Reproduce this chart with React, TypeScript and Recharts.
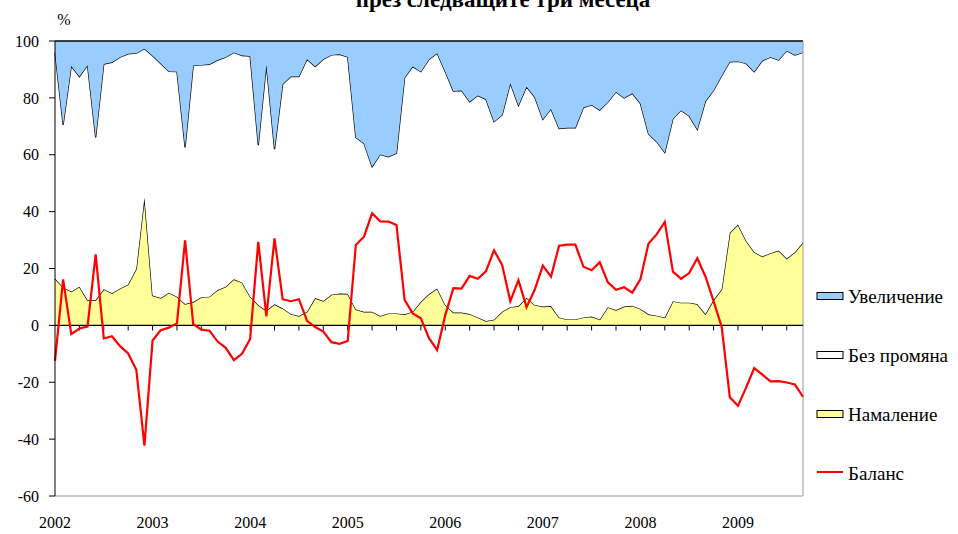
import React from "react";
import { ComposedChart, Area, Line, XAxis, YAxis, ReferenceLine } from "recharts";

// monthly survey answers, Jan 2002 - Sep 2009
const years = ["2002", "2003", "2004", "2005", "2006", "2007", "2008", "2009"];

const uvelichenie = [
  4.0, 29.5, 8.8, 12.5, 8.5, 33.9, 8.1, 7.5, 5.7, 4.5, 4.3, 2.7,
  5.2, 7.9, 10.7, 10.8, 37.4, 8.6, 8.4, 8.2, 6.7, 5.7, 4.0, 5.1,
  5.3, 36.6, 8.4, 38.0, 15.2, 12.5, 12.5, 6.4, 9.0, 6.4, 4.9, 4.7,
  5.6, 33.9, 36.0, 44.2, 39.9, 40.7, 39.5, 12.9, 9.0, 10.8, 6.5, 4.3,
  10.8, 17.6, 17.4, 21.4, 19.2, 20.5, 28.4, 26.0, 14.9, 22.7, 16.1, 19.7,
  27.6, 23.9, 30.8, 30.5, 30.5, 23.4, 22.5, 24.3, 21.5, 17.9, 20.0, 18.4,
  22.0, 32.7, 35.4, 39.2, 27.4, 24.4, 26.4, 31.1, 21.2, 17.4, 12.2, 7.3,
  7.2, 7.9, 10.8, 6.9, 5.7, 6.7, 3.4, 4.9, 4.0,
];

const bezPromyana = [
  79.5, 57.2, 79.3, 73.9, 82.6, 57.2, 79.2, 81.2, 81.3, 81.1, 75.8, 52.3,
  84.3, 82.5, 77.8, 79.1, 55.1, 83.2, 81.7, 81.7, 80.9, 80.7, 79.8, 79.8,
  84.6, 56.2, 86.4, 54.6, 78.8, 83.5, 84.2, 88.8, 81.4, 85.0, 84.3, 84.1,
  83.3, 60.5, 59.2, 51.0, 56.8, 55.1, 56.3, 83.2, 86.2, 80.9, 82.5, 82.7,
  82.0, 77.9, 78.1, 74.6, 78.0, 78.0, 69.6, 69.2, 78.7, 70.5, 74.2, 73.1,
  65.8, 69.3, 66.4, 67.4, 67.4, 73.8, 74.4, 73.6, 72.1, 76.7, 73.4, 74.7,
  72.2, 63.4, 61.2, 58.0, 64.1, 67.6, 65.6, 61.4, 74.8, 73.7, 75.1, 60.1,
  57.3, 62.3, 63.4, 68.9, 68.9, 67.0, 73.1, 69.4, 66.9,
];

const namalenie = [
  16.5, 13.3, 11.9, 13.6, 8.9, 8.9, 12.7, 11.3, 13.0, 14.4, 19.9, 45.0,
  10.5, 9.6, 11.5, 10.1, 7.5, 8.2, 9.9, 10.1, 12.4, 13.6, 16.2, 15.1,
  10.1, 7.2, 5.2, 7.4, 6.0, 4.0, 3.3, 4.8, 9.6, 8.6, 10.8, 11.2,
  11.1, 5.6, 4.8, 4.8, 3.3, 4.2, 4.2, 3.9, 4.8, 8.3, 11.0, 13.0,
  7.2, 4.5, 4.5, 4.0, 2.8, 1.5, 2.0, 4.8, 6.4, 6.8, 9.7, 7.2,
  6.6, 6.8, 2.8, 2.1, 2.1, 2.8, 3.1, 2.1, 6.4, 5.4, 6.6, 6.9,
  5.8, 3.9, 3.4, 2.8, 8.5, 8.0, 8.0, 7.5, 4.0, 8.9, 12.7, 32.6,
  35.5, 29.8, 25.8, 24.2, 25.4, 26.3, 23.5, 25.7, 29.1,
];

const balans = [
  -12.5, 16.2, -3.1, -1.1, -0.4, 25.0, -4.6, -3.8, -7.3, -9.9, -15.6, -42.3,
  -5.3, -1.7, -0.8, 0.7, 29.9, 0.4, -1.5, -1.9, -5.7, -7.9, -12.2, -10.0,
  -4.8, 29.4, 3.2, 30.6, 9.2, 8.5, 9.2, 1.6, -0.6, -2.2, -5.9, -6.5,
  -5.5, 28.3, 31.2, 39.4, 36.6, 36.5, 35.3, 9.0, 4.2, 2.5, -4.5, -8.7,
  3.6, 13.1, 12.9, 17.4, 16.4, 19.0, 26.4, 21.2, 8.5, 15.9, 6.4, 12.5,
  21.0, 17.1, 28.0, 28.4, 28.4, 20.6, 19.4, 22.2, 15.1, 12.5, 13.4, 11.5,
  16.2, 28.8, 32.0, 36.4, 18.9, 16.4, 18.4, 23.6, 17.2, 8.5, -0.5, -25.3,
  -28.3, -21.9, -15.0, -17.3, -19.7, -19.6, -20.1, -20.8, -25.1,
];

const yTicks = [-60, -40, -20, 0, 20, 40, 60, 80, 100];

const legendItems = [
  { name: "Увеличение", fill: "#99CCFF" },
  { name: "Без промяна", fill: "#FFFFFF" },
  { name: "Намаление", fill: "#FFFF99" },
  { name: "Баланс", line: "#FF0000" },
];

const data = namalenie.map((n, i) => ({
  i,
  namalenie: n,
  bezPromyana: bezPromyana[i],
  uvelichenie: uvelichenie[i],
  balans: balans[i],
}));

const yearTicks = years.map((_, k) => k * 12);
const quarterTicks = data.filter((d) => d.i > 0 && d.i % 3 === 0 && d.i < data.length - 1).map((d) => d.i);

const FONT = "Liberation Serif, DejaVu Serif, serif";
const textStyle = { fontFamily: FONT };

export default function App() {
  return (
    <div
      style={{
        position: "absolute",
        left: 0,
        top: 0,
        width: 958,
        height: 534,
        background: "#fff",
        fontFamily: FONT,
      }}
    >
      <ComposedChart
        width={958}
        height={534}
        data={data}
        margin={{ top: 41, right: 155, bottom: 0, left: 0 }}
        style={textStyle}
      >
        <XAxis
          dataKey="i"
          type="number"
          domain={[0, data.length - 1]}
          ticks={yearTicks}
          tickFormatter={(v: number) => years[v / 12]}
          tickLine={false}
          axisLine={{ stroke: "#9a9a9a" }}
          height={38}
          tickMargin={15}
          tick={{ fontSize: 16, fill: "#000", style: textStyle }}
        />
        <YAxis
          domain={[-60, 100]}
          ticks={yTicks}
          width={55}
          tickSize={6}
          tickMargin={10}
          tickLine={{ stroke: "#000" }}
          axisLine={{ stroke: "#000" }}
          tick={{ fontSize: 16, fill: "#000", style: textStyle }}
          interval={0}
        />
        <Area
          type="linear"
          dataKey="namalenie"
          stackId="s"
          fill="#FFFF99"
          fillOpacity={1}
          stroke="#000"
          strokeWidth={1.3}
          isAnimationActive={false}
          dot={false}
          activeDot={false}
        />
        <Area
          type="linear"
          dataKey="bezPromyana"
          stackId="s"
          fill="#FFFFFF"
          fillOpacity={1}
          stroke="#000"
          strokeWidth={1.3}
          isAnimationActive={false}
          dot={false}
          activeDot={false}
        />
        <Area
          type="linear"
          dataKey="uvelichenie"
          stackId="s"
          fill="#99CCFF"
          fillOpacity={1}
          stroke="#000"
          strokeWidth={1.3}
          isAnimationActive={false}
          dot={false}
          activeDot={false}
        />
        <ReferenceLine x={data.length - 1} stroke="#9a9a9a" />
        <ReferenceLine y={0} stroke="#000" strokeWidth={1.3} />
        {quarterTicks.map((q) => (
          <ReferenceLine
            key={q}
            segment={[
              { x: q, y: 0 },
              { x: q, y: -1.8 },
            ]}
            stroke="#000"
          />
        ))}
        <Line
          type="linear"
          dataKey="balans"
          stroke="#FF0000"
          strokeWidth={2.2}
          dot={false}
          activeDot={false}
          isAnimationActive={false}
        />
      </ComposedChart>
      <svg
        width={958}
        height={534}
        style={{ position: "absolute", left: 0, top: 0, pointerEvents: "none", fontFamily: FONT }}
      >
        <text x={503} y={7} textAnchor="middle" fontSize={23} fontWeight="bold" style={textStyle} fill="#000">
          през следващите три месеца
        </text>
        <text x={64} y={25} textAnchor="middle" fontSize={16} style={textStyle} fill="#000">
          %
        </text>
        {legendItems.map((it, k) => {
          const cy = 296 + k * 59;
          return (
            <g key={it.name}>
              {it.line ? (
                <line x1={817} x2={843} y1={cy - 1} y2={cy - 1} stroke={it.line} strokeWidth={2} />
              ) : (
                <rect x={817} y={cy - 3.5} width={26} height={7} fill={it.fill} stroke="#000" strokeWidth={1} />
              )}
              <text x={848} y={cy + 7} fontSize={19} style={textStyle} fill="#000">
                {it.name}
              </text>
            </g>
          );
        })}
      </svg>
    </div>
  );
}
